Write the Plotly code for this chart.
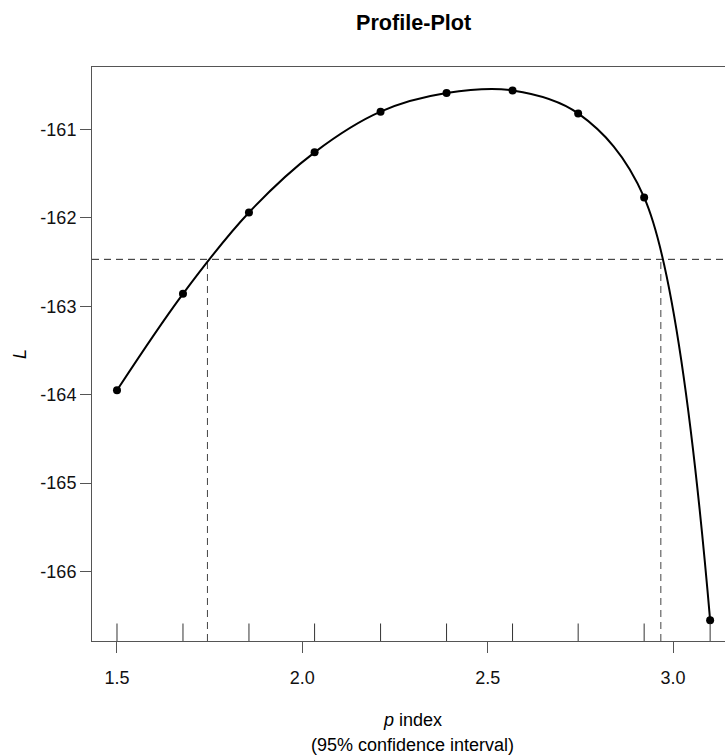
import plotly.graph_objects as go

# ---- data ----
p_values = [1.50, 1.678, 1.856, 2.033, 2.211, 2.389, 2.567, 2.744, 2.922, 3.10]
loglik = [-163.95, -162.86, -161.94, -161.26, -160.80, -160.59, -160.56, -160.82, -161.77, -166.55]
cutoff = -162.47          # max loglik - qchisq(0.95,1)/2
ci_lower = 1.744
ci_upper = 2.967
x_ticks = [1.5, 2.0, 2.5, 3.0]
x_ticklabels = ["1.5", "2.0", "2.5", "3.0"]
y_ticks = [-166, -165, -164, -163, -162, -161]
y_ticklabels = ["-166", "-165", "-164", "-163", "-162", "-161"]

# ---- layout geometry (pixels) ----
W, H = 725, 755
L, T, B = 92, 67, 641
R = W
PW, PH = R - L, B - T
XR = [1.4326, 3.1401]
YR = [-166.786, -160.295]

FONT = "Liberation Sans, Arial, sans-serif"
AX = "#555555"

fig = go.Figure()
fig.add_trace(go.Scatter(
    x=p_values, y=loglik, mode="lines+markers",
    line=dict(color="black", width=2, shape="spline", smoothing=1.0),
    marker=dict(color="black", size=8),
    showlegend=False, hoverinfo="skip", cliponaxis=False,
))

shapes = []
# rug ticks at evaluated p values
for xv in p_values:
    shapes.append(dict(type="line", xref="x", yref="y domain", x0=xv, x1=xv,
                       y0=0, y1=17.5 / PH, line=dict(color="#333333", width=1)))
dash = "7px,5px"
shapes.append(dict(type="line", xref="paper", yref="y", x0=0, x1=1, y0=cutoff, y1=cutoff,
                   line=dict(color="#222222", width=1, dash=dash), layer="below"))
for xv in (ci_lower, ci_upper):
    shapes.append(dict(type="line", xref="x", yref="y", x0=xv, x1=xv, y0=YR[0], y1=cutoff,
                       line=dict(color="#444444", width=1, dash=dash), layer="below"))

def px_x(px):
    return (px - L) / PW

annotations = [
    dict(text="<b>Profile-Plot</b>", xref="paper", yref="paper", x=px_x(413), y=1,
         yshift=T - 22.5, xanchor="center", yanchor="middle", showarrow=False,
         font=dict(family=FONT, size=21.6, color="black")),
    dict(text="<i>p</i> index", xref="paper", yref="paper", x=px_x(412), y=0,
         yshift=-(720 - B), xanchor="center", yanchor="middle", showarrow=False,
         font=dict(family=FONT, size=18, color="black")),
    dict(text="(95% confidence interval)", xref="paper", yref="paper", x=px_x(412), y=0,
         yshift=-(745 - B), xanchor="center", yanchor="middle", showarrow=False,
         font=dict(family=FONT, size=18, color="black")),
    dict(text="<i>L</i>", xref="paper", yref="paper", x=0, xshift=-(L - 20), y=0.5,
         xanchor="center", yanchor="middle", textangle=-90, showarrow=False,
         font=dict(family=FONT, size=18, color="black")),
]

fig.update_layout(
    width=W, height=H,
    margin=dict(l=L, r=W - R, t=T, b=H - B, pad=0),
    paper_bgcolor="white", plot_bgcolor="white",
    font=dict(family=FONT, size=18, color="black"),
    shapes=shapes, annotations=annotations,
    xaxis=dict(range=XR, showgrid=False, zeroline=False, showline=True, mirror=True,
               linecolor=AX, linewidth=1, ticks="outside", ticklen=11, tickcolor=AX,
               tickwidth=1, tickvals=x_ticks, ticktext=x_ticklabels,
               ticklabelstandoff=9,
               tickfont=dict(family=FONT, size=18, color="#111111")),
    yaxis=dict(range=YR, showgrid=False, zeroline=False, showline=True, mirror=False,
               linecolor=AX, linewidth=1, ticks="outside", ticklen=11, tickcolor=AX,
               tickwidth=1, tickvals=y_ticks, ticktext=y_ticklabels,
               tickfont=dict(family=FONT, size=18, color="#111111")),
)

fig.write_html("out.html")
